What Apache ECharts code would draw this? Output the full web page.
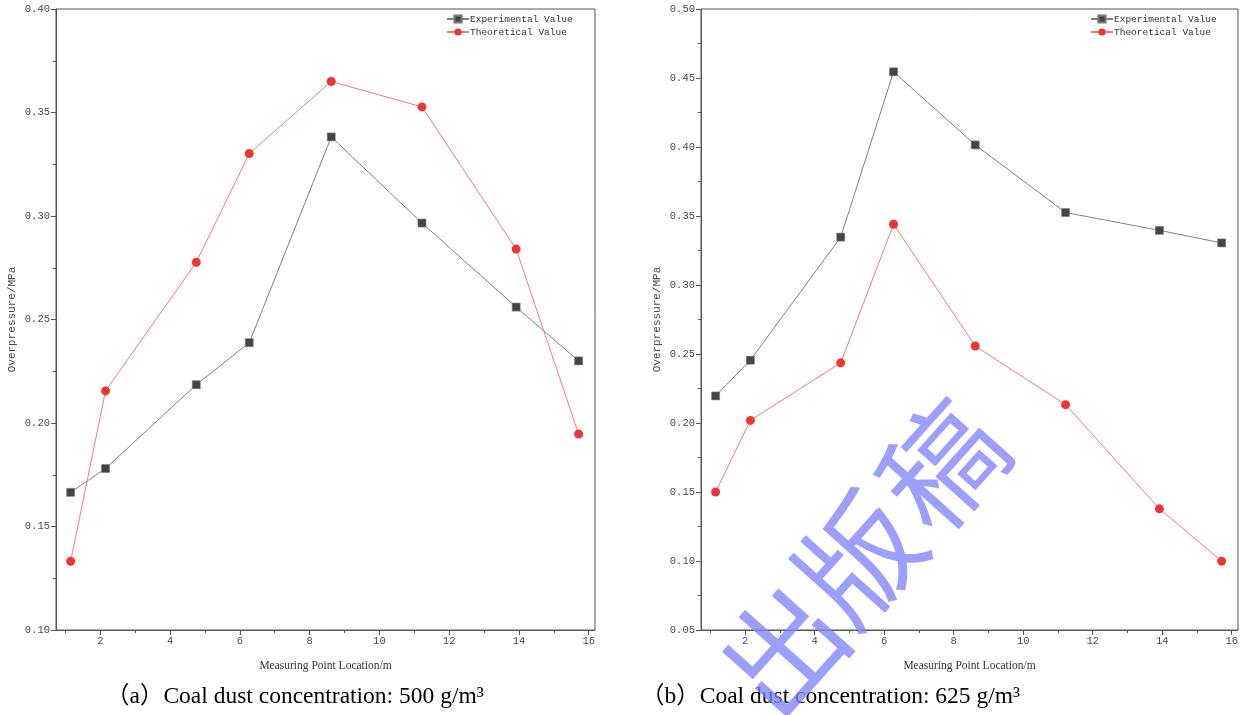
<!DOCTYPE html>
<html>
<head>
<meta charset="utf-8">
<script src="https://cdn.jsdelivr.net/npm/echarts@6/dist/echarts.min.js"></script>
<style>html,body{margin:0;padding:0;background:#fff;}#c{width:1250px;height:715px;}</style>
</head>
<body>
<div id="c"></div>
<script>
const locations = [1.15, 2.15, 4.75, 6.27, 8.62, 11.22, 13.92, 15.71];
const expA = [0.1665, 0.1780, 0.2185, 0.2388, 0.3382, 0.2966, 0.2560, 0.2300];
const theoA = [0.1332, 0.2155, 0.2776, 0.3302, 0.3650, 0.3527, 0.2840, 0.1947];
const expB = [0.2196, 0.2455, 0.3347, 0.4545, 0.4015, 0.3525, 0.3396, 0.3305];
const theoB = [0.1500, 0.2019, 0.2436, 0.3440, 0.2558, 0.2133, 0.1378, 0.0999];
const xMajor = [2, 4, 6, 8, 10, 12, 14, 16];
const xMinor = [1, 3, 5, 7, 9, 11, 13, 15];
const yRangeA = [0.10, 0.40];
const yRangeB = [0.05, 0.50];
const xRange = [0.73, 16.18];
const names = ['Experimental Value', 'Theoretical Value'];
const captions = ['（a）Coal dust concentration: 500 g/m³', '（b）Coal dust concentration: 625 g/m³'];
const xTitle = 'Measuring Point Location/m';
const yTitle = 'Overpressure/MPa';
const watermark = ['出', '版', '稿'];

const mono = 'Liberation Mono';
const serif = 'Liberation Serif';
const axisColor = '#555';
const labelColor = '#4a4a4a';

const grids = [
  {left: 56, top: 9, width: 539, height: 621, show: true, borderColor: axisColor, borderWidth: 1},
  {left: 701, top: 9, width: 537, height: 621, show: true, borderColor: axisColor, borderWidth: 1}
];

function mainX(gi) {
  return {
    type: 'value', gridIndex: gi, min: xRange[0], max: xRange[1], position: 'bottom',
    name: xTitle, nameLocation: 'middle', nameGap: 30,
    nameTextStyle: {fontFamily: serif, fontSize: 11.5, color: '#333'},
    axisLine: {show: true, onZero: false, lineStyle: {color: axisColor, width: 1}},
    axisTick: {show: true, customValues: xMajor, length: 5, inside: false, lineStyle: {color: axisColor}},
    axisLabel: {show: true, customValues: xMajor, fontFamily: mono, fontSize: 10.5, color: labelColor, margin: 6},
    splitLine: {show: false}
  };
}
function minorX(gi) {
  return {
    type: 'value', gridIndex: gi, min: xRange[0], max: xRange[1], position: 'bottom', offset: 0,
    axisLine: {show: false, onZero: false},
    axisTick: {show: true, customValues: xMinor, length: 3, lineStyle: {color: axisColor}},
    axisLabel: {show: false},
    splitLine: {show: false}
  };
}
function mainY(gi, r) {
  return {
    type: 'value', gridIndex: gi, min: r[0], max: r[1], interval: 0.05,
    name: yTitle, nameLocation: 'middle', nameGap: 38, nameRotate: 90,
    nameTextStyle: {fontFamily: mono, fontSize: 11, color: labelColor},
    axisLine: {show: true, onZero: false, lineStyle: {color: axisColor, width: 1}},
    axisTick: {show: true, length: 5, lineStyle: {color: axisColor}},
    minorTick: {show: true, splitNumber: 2, length: 3, lineStyle: {color: axisColor}},
    axisLabel: {fontFamily: mono, fontSize: 10.5, color: labelColor, margin: 6, formatter: v => v.toFixed(2)},
    splitLine: {show: false}
  };
}

function pairs(ys) { return locations.map((x, i) => [x, ys[i]]); }

function expSeries(gi, ys) {
  return {
    name: names[0], type: 'line', xAxisIndex: gi * 2, yAxisIndex: gi, data: pairs(ys),
    symbol: 'rect', symbolSize: 8,
    lineStyle: {color: '#808080', width: 1},
    itemStyle: {color: '#444', borderColor: '#777', borderWidth: 0.6},
    emphasis: {disabled: true}, z: 3
  };
}
function theoSeries(gi, ys) {
  return {
    name: names[1], type: 'line', xAxisIndex: gi * 2, yAxisIndex: gi, data: pairs(ys),
    symbol: 'circle', symbolSize: 9,
    lineStyle: {color: '#f27a7a', width: 1},
    itemStyle: {color: '#ee3535', borderColor: '#ee3535', borderWidth: 0},
    emphasis: {disabled: true}, z: 4
  };
}

function legend(left) {
  return {
    left: left, top: 13, orient: 'vertical', itemWidth: 22, itemHeight: 9, itemGap: 1, padding: 0,
    data: names, selectedMode: false,
    textStyle: {fontFamily: mono, fontSize: 9.5, color: '#333', lineHeight: 12, padding: [0, 0, 0, -4]}
  };
}

const wmPos = [[783, 650], [859, 559], [942, 465]];
const graphics = [];
captions.forEach((t, i) => {
  graphics.push({
    type: 'text', left: i === 0 ? 106 : 641, top: 685, z: 10,
    style: {text: t, fontFamily: serif + ', "Noto Sans CJK SC"', fontSize: 23.5, fill: '#000'}
  });
});
watermark.forEach((ch, i) => {
  graphics.push({
    type: 'text', x: wmPos[i][0], y: wmPos[i][1], rotation: 0.84, z: 20,
    style: {text: ch, fontFamily: '"Noto Sans CJK SC"', fontWeight: 400, fontSize: 120,
            fill: 'rgba(128,132,250,0.78)', align: 'center', verticalAlign: 'middle'}
  });
});

const chart = echarts.init(document.getElementById('c'), null, {renderer: 'canvas'});
chart.setOption({
  animation: false,
  backgroundColor: '#fff',
  grid: grids,
  xAxis: [mainX(0), minorX(0), mainX(1), minorX(1)],
  yAxis: [mainY(0, yRangeA), mainY(1, yRangeB)],
  legend: [legend(446), legend(1090)],
  series: [expSeries(0, expA), theoSeries(0, theoA), expSeries(1, expB), theoSeries(1, theoB)],
  graphic: graphics
});
</script>
</body>
</html>
